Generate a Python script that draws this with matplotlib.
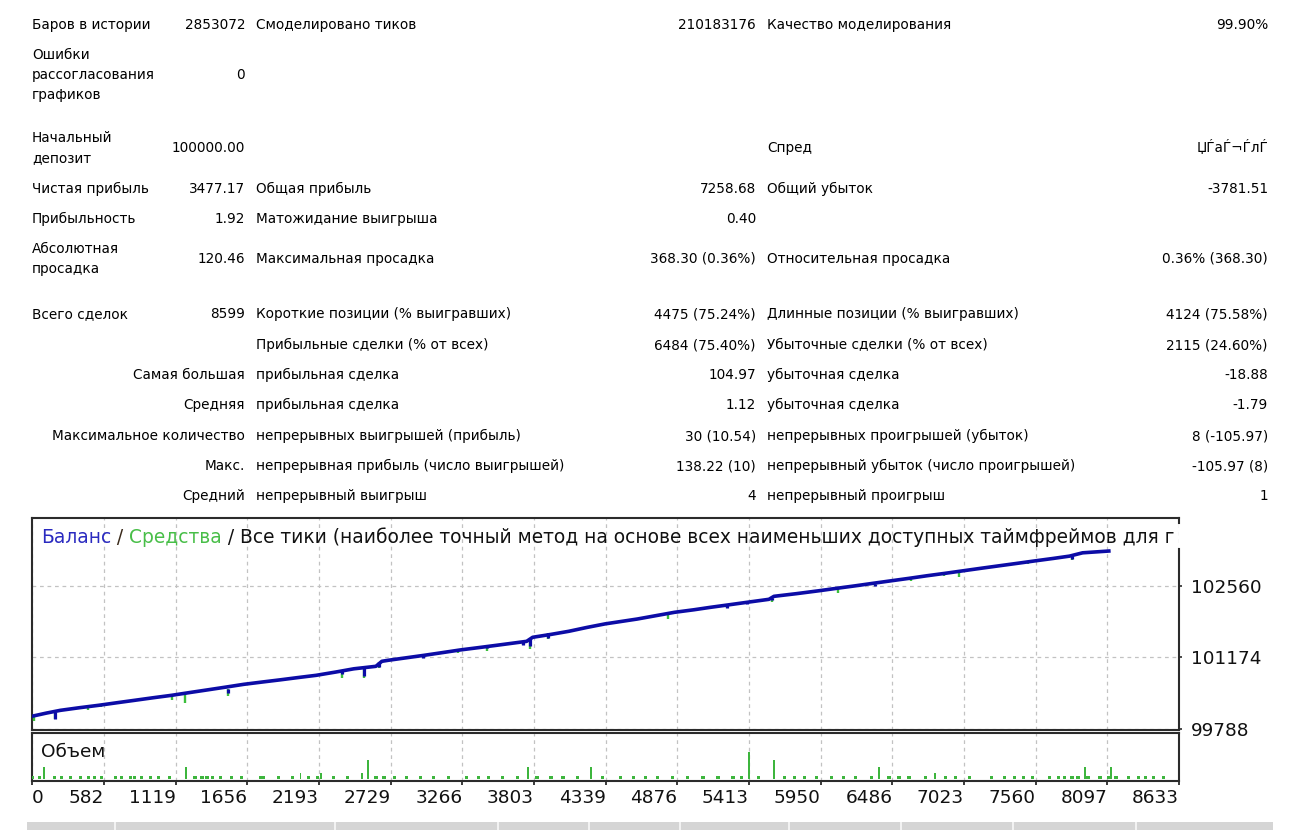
import matplotlib
matplotlib.use('Agg')
import matplotlib.pyplot as plt
from matplotlib.patches import Rectangle
from matplotlib.lines import Line2D

W, H = 1290, 830
plt.rcParams['font.family'] = ['DejaVu Sans']

# ---------------- report table data ----------------
col1_labels = ["Баров в истории", "Ошибки\nрассогласования\nграфиков", "Начальный\nдепозит",
               "Чистая прибыль", "Прибыльность", "Абсолютная\nпросадка", "Всего сделок", "",
               "Самая большая", "Средняя", "Максимальное количество", "Макс.", "Средний"]
col1_values = ["2853072", "0", "100000.00", "3477.17", "1.92", "120.46", "8599", "",
               "", "", "", "", ""]
col2_labels = ["Смоделировано тиков", "", "", "Общая прибыль", "Матожидание выигрыша",
               "Максимальная просадка", "Короткие позиции (% выигравших)",
               "Прибыльные сделки (% от всех)", "прибыльная сделка", "прибыльная сделка",
               "непрерывных выигрышей (прибыль)", "непрерывная прибыль (число выигрышей)",
               "непрерывный выигрыш"]
col2_values = ["210183176", "", "", "7258.68", "0.40", "368.30 (0.36%)", "4475 (75.24%)",
               "6484 (75.40%)", "104.97", "1.12", "30 (10.54)", "138.22 (10)", "4"]
col3_labels = ["Качество моделирования", "", "Спред", "Общий убыток", "",
               "Относительная просадка", "Длинные позиции (% выигравших)",
               "Убыточные сделки (% от всех)", "убыточная сделка", "убыточная сделка",
               "непрерывных проигрышей (убыток)", "непрерывный убыток (число проигрышей)",
               "непрерывный проигрыш"]
col3_values = ["99.90%", "", "ЏЃаЃ¬ЃлЃ", "-3781.51", "", "0.36% (368.30)", "4124 (75.58%)",
               "2115 (24.60%)", "-18.88", "-1.79", "8 (-105.97)", "-105.97 (8)", "1"]
row_y = [25, 75, 148, 189, 219, 259, 314, 345, 375, 405, 436, 466, 496]

# ---------------- chart data ----------------
chart_title = ["Баланс", " / ", "Средства",
               " / Все тики (наиболее точный метод на основе всех наименьших доступных "
               "таймфреймов для г"]
x_tick_vals = [44, 582, 1119, 1656, 2193, 2729, 3266, 3803, 4339, 4876, 5413, 5950,
               6486, 7023, 7560, 8097, 8633]
x_tick_labels = ["0", "582", "1119", "1656", "2193", "2729", "3266", "3803", "4339", "4876",
                 "5413", "5950", "6486", "7023", "7560", "8097", "8633"]
y_tick_vals = [99788, 101174, 102560]

bal_idx = [8, 150, 256, 400, 542, 680, 813, 950, 1091, 1230, 1362, 1500, 1630, 1770, 1904,
           2040, 2172, 2320, 2454, 2619, 2664, 2710, 2850, 2981, 3120, 3252, 3390, 3522,
           3748, 3793, 3930, 4064, 4200, 4335, 4576, 4855, 5000, 5126, 5260, 5397, 5562,
           5600, 5770, 5938, 6070, 6209, 6340, 6477, 6610, 6744, 6880, 7015, 7150, 7286,
           7420, 7557, 7690, 7813, 7911, 8121]
bal_val = [100014, 100095, 100149, 100200, 100246, 100296, 100343, 100392, 100440, 100495,
           100546, 100600, 100652, 100697, 100739, 100784, 100826, 100890, 100952, 101000,
           101097, 101116, 101166, 101213, 101266, 101317, 101362, 101406, 101483, 101561,
           101617, 101677, 101752, 101820, 101914, 102044, 102093, 102141, 102188, 102237,
           102295, 102353, 102405, 102461, 102508, 102556, 102604, 102653, 102700, 102750,
           102797, 102846, 102895, 102943, 102990, 103039, 103085, 103130, 103194, 103231]

dip_idx = [60, 218, 461, 564, 1089, 1189, 1515, 2369, 2529, 2642, 2971, 3121, 3234, 3452,
           3522, 3723, 3773, 3911, 4809, 5248, 5397, 5583, 6078, 6360, 6626, 6877, 6987,
           7504, 7832]
dip_top = [100030, 100120, 100219, 100255, 100440, 100473, 100566, 100914, 100981, 101088,
           101208, 101259, 101311, 101406, 101406, 101473, 101545, 101636, 102023, 102183,
           102237, 102330, 102495, 102598, 102695, 102785, 102825, 103019, 103133]
dip_bal_low = [100030, 99990, 100219, 100255, 100440, 100473, 100490, 100860, 100820, 100990,
               101165, 101259, 101311, 101345, 101406, 101420, 101400, 101540, 102023, 102130,
               102199, 102280, 102495, 102555, 102695, 102785, 102825, 103019, 103068]
dip_eq_low = [99950, 99975, 100165, 100205, 100357, 100290, 100430, 100770, 100780, 100975,
              101160, 101230, 101255, 101290, 101370, 101415, 101340, 101530, 101905, 102125,
              102195, 102240, 102415, 102550, 102655, 102745, 102730, 102980, 103060]

vol_idx = [15, 45, 98, 135, 211, 263, 331, 406, 467, 512, 565, 670, 715, 783, 813, 866, 933,
           994, 1076, 1197, 1265, 1317, 1355, 1393, 1453, 1536, 1611, 1754, 1777, 1890, 1995,
           2055, 2115, 2183, 2206, 2303, 2409, 2514, 2560, 2620, 2680, 2756, 2846, 2951, 3049,
           3162, 3298, 3388, 3463, 3569, 3682, 3757, 3825, 3930, 4021, 4126, 4232, 4315, 4450,
           4548, 4638, 4729, 4842, 4955, 5068, 5181, 5294, 5354, 5414, 5482, 5602, 5677, 5753,
           5828, 5918, 6031, 6122, 6212, 6333, 6385, 6461, 6536, 6611, 6732, 6807, 6882, 6957,
           7063, 7229, 7327, 7402, 7470, 7537, 7665, 7733, 7778, 7831, 7876, 7929, 7951, 8041,
           8109, 8124, 8162, 8252, 8327, 8380, 8440, 8516]
vol_val = [1, 1, 1, 4, 1, 1, 1, 1, 1, 1, 1, 1, 1, 1, 1, 1, 1,
           1, 1, 4, 1, 1, 1, 1, 1, 1, 1, 1, 1, 1, 1,
           2, 1, 1, 2, 1, 1, 2, 6.5, 1, 1, 1, 1, 1, 1,
           1, 1, 1, 1, 1, 1, 4, 1, 1, 1, 1, 4, 1, 1,
           1, 1, 1, 1, 1, 1, 1, 1, 1, 9, 1, 6.5, 1, 1,
           1, 1, 1, 1, 1, 1, 4, 1, 1, 1, 1, 2, 1, 1,
           1, 1, 1, 1, 1, 1, 1, 1, 1, 1, 1, 4, 1, 1,
           1, 4, 1, 1, 1, 1, 1, 1]

# ---------------- figure ----------------
fig = plt.figure(figsize=(W / 100, H / 100), dpi=100)
fig.patch.set_facecolor('white')


def fx(px):
    return px / W


def fy(py):
    return 1 - py / H


TFS = 9.8
LS = 1.55
for i, yy in enumerate(row_y):
    lab = col1_labels[i]
    if lab:
        if col1_values[i] == "" and i >= 8:
            fig.text(fx(245), fy(yy), lab, ha='right', va='center', fontsize=TFS)
        else:
            fig.text(fx(32), fy(yy), lab, ha='left', va='center', fontsize=TFS, linespacing=LS)
    if col1_values[i]:
        fig.text(fx(245), fy(yy), col1_values[i], ha='right', va='center', fontsize=TFS)
    if col2_labels[i]:
        fig.text(fx(256), fy(yy), col2_labels[i], ha='left', va='center', fontsize=TFS)
    if col2_values[i]:
        fig.text(fx(756), fy(yy), col2_values[i], ha='right', va='center', fontsize=TFS)
    if col3_labels[i]:
        fig.text(fx(767), fy(yy), col3_labels[i], ha='left', va='center', fontsize=TFS)
    if col3_values[i]:
        fig.text(fx(1268), fy(yy), col3_values[i], ha='right', va='center', fontsize=TFS)

# axes
L, R = 32, 1179
ax = fig.add_axes([fx(L), fy(730), fx(R) - fx(L), fy(518) - fy(730)])
axv = fig.add_axes([fx(L), fy(781), fx(R) - fx(L), fy(733) - fy(781)])

BLUE = '#0C0CA6'
GREEN = '#3CBF3C'
GRID = '#C2C2C2'
EDGE = '#2B2B2B'
CFS = 13.3

for a in (ax, axv):
    a.set_xlim(44, 8633)
    a.set_facecolor('white')
    for s in a.spines.values():
        s.set_color(EDGE)
        s.set_linewidth(1.5)
    a.set_xticks(x_tick_vals)

ax.set_ylim(99769, 103867)
ax.set_yticks(y_tick_vals)
ax.yaxis.tick_right()
ax.tick_params(axis='y', direction='out', length=2.5, width=1.2, color=EDGE, pad=6,
               labelsize=CFS, labelcolor='#111111')
ax.set_yticklabels([str(v) for v in y_tick_vals])
ax.tick_params(axis='x', length=0, labelbottom=False)
ax.grid(True, color=GRID, linestyle=(0, (3, 3)), linewidth=0.9)
ax.set_axisbelow(True)

ax.vlines(dip_idx, dip_eq_low, dip_top, color=GREEN, linewidth=1.7, zorder=3)
ax.vlines(dip_idx, dip_bal_low, dip_top, color=BLUE, linewidth=2.3, zorder=4)
ax.plot(bal_idx, bal_val, color=BLUE, linewidth=2.6, zorder=5, solid_capstyle='butt')

# right spine with a gap where the title passes over it
ax.spines['right'].set_visible(False)
ax.add_line(Line2D([1, 1], [0, (730 - 549) / 212], transform=ax.transAxes, color=EDGE,
                   linewidth=1.5, clip_on=False, zorder=6))
ax.add_line(Line2D([1, 1], [(730 - 523) / 212, 1], transform=ax.transAxes, color=EDGE,
                   linewidth=1.5, clip_on=False, zorder=6))

# title (multi-coloured)
TTS = 13.42
t1 = ax.text((41 - L) / (R - L), (730 - 537) / 212, chart_title[0], color='#2A2AC0',
             fontsize=TTS, ha='left', va='center', transform=ax.transAxes, zorder=7)
t2 = ax.annotate(chart_title[1], xycoords=t1, xy=(1, 0), va='bottom', ha='left',
                 color='#3A2A1A', fontsize=TTS, zorder=7)
t3 = ax.annotate(chart_title[2], xycoords=t2, xy=(1, 0), va='bottom', ha='left',
                 color='#48BE48', fontsize=TTS, zorder=7)
t4 = ax.annotate(chart_title[3], xycoords=t3, xy=(1, 0), va='bottom', ha='left',
                 color='#111111', fontsize=TTS, zorder=7)

# volume panel
axv.set_ylim(-0.85, 15.7)
axv.set_yticks([])
vol_w = [12 if v > 1 else 24 for v in vol_val]
axv.bar(vol_idx, vol_val, width=vol_w, color='#3DB53D', align='center', zorder=3)
axv.grid(True, axis='x', color=GRID, linestyle=(0, (3, 3)), linewidth=0.9)
axv.set_axisbelow(True)
axv.set_xticklabels(x_tick_labels)
axv.tick_params(axis='x', direction='out', length=3, width=1.3, color=EDGE, pad=3,
                labelsize=CFS, labelcolor='#111111')
labels = axv.get_xticklabels()
for j, lbl in enumerate(labels):
    lbl.set_ha('left' if j == 0 else 'right')
axv.text((41 - L) / (R - L), (781 - 752) / 48, "Объем", fontsize=CFS, ha='left',
         va='center', transform=axv.transAxes, color='#111111')

# grey header strip of next table
fig.patches.append(Rectangle((fx(27), fy(830)), fx(1273) - fx(27), (830 - 822) / H,
                             transform=fig.transFigure, facecolor='#D5D5D5', edgecolor='none'))
for sx in [114.5, 335, 497.5, 589, 679.5, 789.5, 901, 1013, 1136]:
    fig.patches.append(Rectangle((fx(sx - 1), fy(830)), 2 / W, (830 - 822) / H,
                                 transform=fig.transFigure, facecolor='#F2F2F2',
                                 edgecolor='none'))

fig.savefig('out.png', dpi=100, facecolor='white')
